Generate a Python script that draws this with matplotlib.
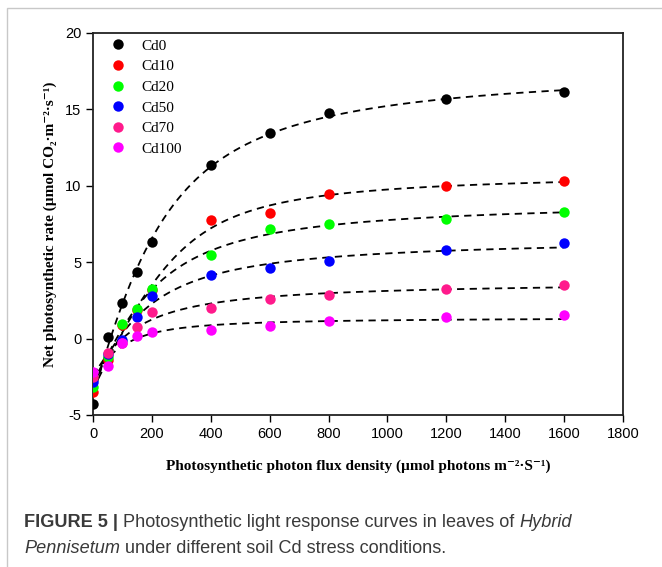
import matplotlib
matplotlib.use("Agg")
import matplotlib.pyplot as plt
from matplotlib.patches import Rectangle
import numpy as np

# Light response data
ppfd = np.array([0, 50, 100, 150, 200, 400, 600, 800, 1200, 1600], dtype=float)
cd0 = [-4.25, 0.10, 2.35, 4.35, 6.30, 11.35, 13.45, 14.75, 15.70, 16.15]
cd10 = [-3.50, -1.40, 0.90, 1.90, 3.20, 7.75, 8.20, 9.45, 10.00, 10.30]
cd20 = [-3.20, -1.20, 0.96, 1.92, 3.25, 5.50, 7.20, 7.47, 7.80, 8.27]
cd50 = [-2.85, -1.00, -0.12, 1.44, 2.82, 4.14, 4.63, 5.05, 5.82, 6.25]
cd70 = [-2.50, -0.95, -0.30, 0.79, 1.72, 2.03, 2.62, 2.88, 3.23, 3.54]
cd100 = [-2.20, -1.80, -0.28, 0.15, 0.46, 0.57, 0.85, 1.18, 1.40, 1.53]

labels = ["Cd0", "Cd10", "Cd20", "Cd50", "Cd70", "Cd100"]
series = [cd0, cd10, cd20, cd50, cd70, cd100]
colors = ["#000000", "#ff0000", "#00ff00", "#0000ff", "#ff1a8c", "#ff00ff"]

plt.rcParams["axes.unicode_minus"] = False


def nrh(I, a, pm, th):
    s = a * I + pm
    return (s - np.sqrt(np.maximum(s ** 2 - 4 * th * a * I * pm, 0))) / (2 * th)


def fit_nrh(x, y):
    # non-rectangular hyperbola, brute force grid, Rd by least squares
    y = np.asarray(y)
    th = np.linspace(0.02, 0.98, 25)[:, None, None, None]
    a = np.linspace(0.01, 0.25, 49)[None, :, None, None]
    pm = np.linspace(1, 40, 157)[None, None, :, None]
    f = nrh(x[None, None, None, :], a, pm, th)
    rd = np.mean(f - y, axis=-1, keepdims=True)
    sse = np.sum((f - rd - y) ** 2, axis=-1)
    i, j, k = np.unravel_index(np.argmin(sse), sse.shape)
    p = (a[0, j, 0, 0], pm[0, 0, k, 0], th[i, 0, 0, 0], rd[i, j, k, 0])
    return lambda I: nrh(I, p[0], p[1], p[2]) - p[3]


fig = plt.figure(figsize=(6.62, 5.67), dpi=100)
ax = fig.add_axes([93 / 662, 1 - 415 / 567, 530 / 662, 382 / 567])

xs = np.linspace(0, 1600, 400)
for vals in series:
    f = fit_nrh(ppfd, vals)
    ax.plot(xs, f(xs), color="black", lw=1.3, ls=(0, (4, 3)), zorder=2)
for vals, c, lab in zip(series, colors, labels):
    ax.plot(ppfd, vals, "o", color=c, ms=7.5, mew=0, label=lab, zorder=3)

ax.set_xlim(0, 1800)
ax.set_ylim(-5, 20)
ax.set_xticks(np.arange(0, 1801, 200))
ax.set_yticks(np.arange(-5, 21, 5))
ax.tick_params(direction="out", length=5, width=1, labelsize=10.5, top=False, right=False)
for t in ax.get_xticklabels() + ax.get_yticklabels():
    t.set_fontfamily("Liberation Sans")
for s in ax.spines.values():
    s.set_linewidth(1.3)
    s.set_color("#222222")

serif = ["Liberation Serif", "DejaVu Serif"]
ax.set_xlabel("Photosynthetic photon flux density (µmol photons m⁻²·S⁻¹)",
              fontfamily=serif, fontweight="bold", fontsize=11)
ax.set_ylabel("Net photosynthetic rate (µmol CO₂·m⁻²·s⁻¹)",
              fontfamily=serif, fontweight="bold", fontsize=11)
ax.xaxis.set_label_coords(0.5, -0.117)
ax.yaxis.set_label_coords(-0.068, 0.5)

ax.legend(loc="upper left", bbox_to_anchor=(0.006, 1.008), frameon=False,
          prop={"family": "Liberation Serif", "size": 11},
          handletextpad=0.75, labelspacing=0.45, borderpad=0.1, handlelength=1.6)

# outer frame of the figure panel
fig.patches.append(Rectangle((7 / 662, -0.1), 1.2, 1 - 8 / 567 + 0.1, transform=fig.transFigure,
                             fill=False, edgecolor="#c8c8c8", lw=1.0))

# caption with mixed styles
renderer = fig.canvas.get_renderer()


def caption_line(parts, x, y):
    for txt, kw in parts:
        t = fig.text(x, y, txt, fontfamily="Liberation Sans", fontsize=13.1, color="#3a3a3a",
                     va="baseline", **kw)
        bb = t.get_window_extent(renderer)
        x += bb.width / fig.bbox.width


caption_line([("FIGURE 5 | ", {"fontweight": "bold"}),
              ("Photosynthetic light response curves in leaves of ", {}),
              ("Hybrid", {"style": "italic"})], 24 / 662, 1 - 527 / 567)
caption_line([("Pennisetum", {"style": "italic"}),
              (" under different soil Cd stress conditions.", {})], 24 / 662, 1 - 553 / 567)

fig.savefig("out.png", dpi=100)
